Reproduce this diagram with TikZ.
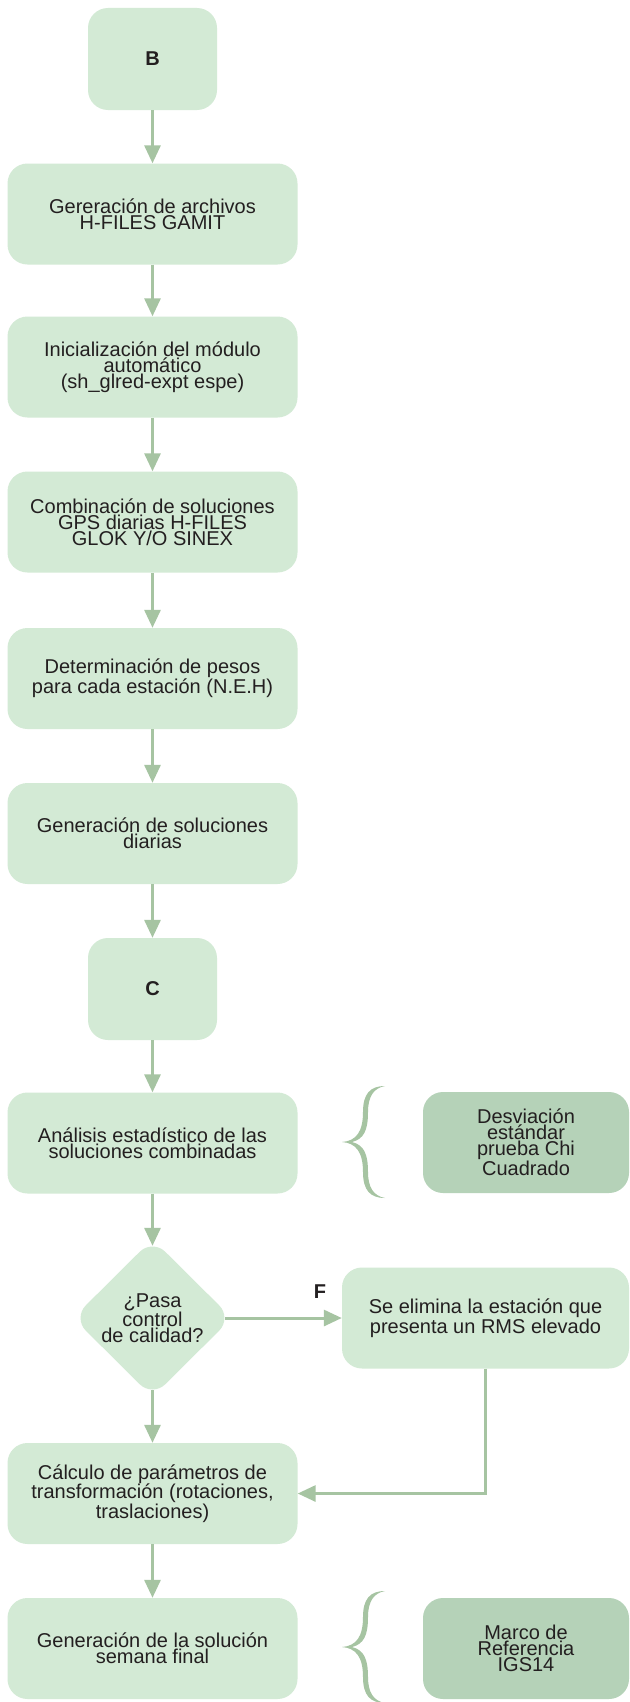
\documentclass[tikz,border=0pt]{standalone}
\usepackage{fontspec}
\setmainfont{Liberation Sans}
\usetikzlibrary{arrows.meta,shapes.geometric}
\definecolor{boxfill}{HTML}{D3EAD5}
\definecolor{darkfill}{HTML}{B5D2B8}
\definecolor{arrowc}{HTML}{A6C4A2}
\definecolor{txt}{HTML}{231F20}
\tikzset{
  curlybrace/.pic={
    \fill[arrowc] (43,-56) .. controls (28,-56) and (21,-48) .. (21,-30)
      .. controls (21,-10) and (14,-1) .. (0,0)
      .. controls (14,1) and (21,10) .. (21,30)
      .. controls (21,48) and (28,56) .. (43,56)
      .. controls (32,54) and (26,46) .. (26,30)
      .. controls (26,12) and (22,3) .. (10,0)
      .. controls (22,-3) and (26,-12) .. (26,-30)
      .. controls (26,-46) and (32,-54) .. (43,-56) -- cycle;
  }
}
\begin{document}
\begin{tikzpicture}[x=1pt,y=-1pt,
  stepbox/.style={rectangle, rounded corners=20pt, fill=boxfill, minimum width=290pt,
    minimum height=101pt, inner sep=0pt, align=center, text=txt,
    font=\fontsize{20pt}{16pt}\selectfont},
  letterbox/.style={stepbox, minimum width=129pt, minimum height=102pt,
    font=\fontsize{20pt}{16pt}\selectfont\bfseries},
  notebox/.style={stepbox, fill=darkfill, minimum width=206pt},
  decbox/.style={diamond, fill=boxfill, minimum width=159pt, minimum height=158pt,
    inner sep=0pt, rounded corners=18pt},
  lbl/.style={text=txt, font=\fontsize{20pt}{16pt}\selectfont, align=center, inner sep=0pt},
  flow/.style={draw=arrowc, line width=3pt, -{Triangle[width=16pt,length=18pt]}}
]
\useasboundingbox (0,0) rectangle (629,1702);
\fill[white] (0,0) rectangle (629,1702);

\node[letterbox] (b) at (152.5,59) {B};
\node[stepbox] (ger) at (152.5,214) {Gereración de archivos\\H-FILES GAMIT};
\node[stepbox] (ini) at (152.5,367) {Inicialización del módulo\\automático\\(sh\_glred-expt espe)};
\node[stepbox] (comb) at (152.5,522) {Combinación de soluciones\\GPS diarias H-FILES\\GLOK Y/O SINEX};
\node[stepbox] (det) at (152.5,678.5) {Determinación de pesos\\para cada estación (N.E.H)};
\node[stepbox] (gsol) at (152.5,833.5) {Generación de soluciones\\diarias};
\node[letterbox] (c) at (152.5,989) {C};
\node[stepbox] (ana) at (152.5,1143) {Análisis estadístico de las\\soluciones combinadas};
\node[decbox] (dia) at (152.5,1318) {};
\node[lbl] (diatext) at (dia.center) {¿Pasa\\control\\de calidad?};
\node[stepbox] (cal) at (152.5,1493.5) {Cálculo de parámetros de\\transformación (rotaciones,\\traslaciones)};
\node[stepbox] (gfin) at (152.5,1648.5) {Generación de la solución\\semana final};

\node[notebox] (desv) at (526,1142.5) {Desviación\\estándar\\prueba Chi\\Cuadrado};
\node[stepbox, minimum width=287pt] (se) at (485.5,1318) {Se elimina la estación que\\presenta un RMS elevado};
\node[notebox] (marco) at (526,1648.5) {Marco de\\Referencia\\IGS14};

\pic (br1) at (342,1142) {curlybrace};
\pic (br2) at (342,1647) {curlybrace};

\draw[flow] (b) -- (ger);
\draw[flow] (ger) -- (ini);
\draw[flow] (ini) -- (comb);
\draw[flow] (comb) -- (det);
\draw[flow] (det) -- (gsol);
\draw[flow] (gsol) -- (c);
\draw[flow] (c) -- (ana);
\draw[flow, shorten >=-7pt] (ana.south) -- (dia.north);
\draw[flow, shorten <=-7pt] (dia.south) -- (cal.north);
\draw[flow, shorten <=-7pt] (dia.east) -- (se.west);
\node[lbl, font=\fontsize{20pt}{16pt}\selectfont\bfseries] (flab) at (320,1292) {F};
\draw[flow] (se.south) |- (cal.east);
\draw[flow] (cal) -- (gfin);
\end{tikzpicture}
\end{document}
